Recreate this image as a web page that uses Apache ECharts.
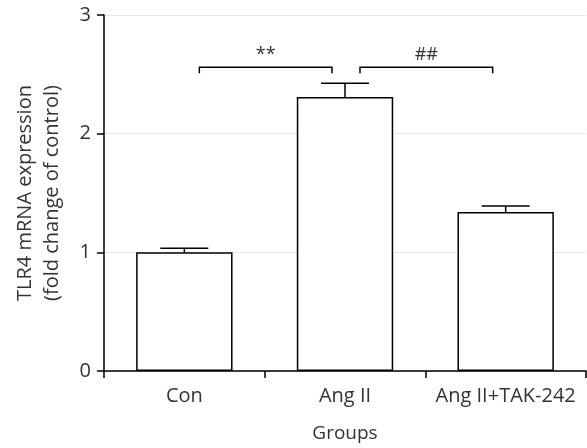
<!DOCTYPE html>
<html>
<head>
<meta charset="utf-8">
<script src="https://cdn.jsdelivr.net/npm/echarts@6/dist/echarts.min.js"></script>
<style>
  html, body { margin: 0; padding: 0; background: #fff; }
  #main { width: 587px; height: 448px; }
</style>
</head>
<body>
<div id="main"></div>
<script>
// groups on the x axis
var groups = ['Con', 'Ang II', 'Ang II+TAK-242'];
// mean fold change and upper error (mean + SEM)
var means = [1.0, 2.31, 1.34];
var errTops = [1.035, 2.425, 1.39];
// significance brackets: from group, to group, height, label
var pairFrom = [0, 1];
var pairTo = [1, 2];
var pairY = [2.56, 2.56];
var pairLabels = ['**', '##'];
var yTicks = [0, 1, 2, 3];

var font = 'Open Sans';

var option = {
    animation: false,
    grid: { left: 104, right: 1, top: 15, bottom: 76 },
    xAxis: {
        type: 'category',
        data: groups,
        name: 'Groups',
        nameLocation: 'middle',
        nameGap: 53,
        nameTextStyle: { fontFamily: font, fontSize: 19, color: '#333' },
        axisLine: { lineStyle: { color: '#000', width: 1.5 } },
        axisTick: { show: true, length: 7, lineStyle: { color: '#000', width: 1.5 } },
        axisLabel: { fontFamily: font, fontSize: 20, color: '#333', margin: 15, interval: 0, hideOverlap: false }
    },
    yAxis: {
        type: 'value',
        min: yTicks[0],
        max: yTicks[yTicks.length - 1],
        interval: 1,
        name: 'TLR4 mRNA expression\n(fold change of control)',
        nameLocation: 'middle',
        nameGap: 38,
        nameTextStyle: { fontFamily: font, fontSize: 20, color: '#333', lineHeight: 27 },
        axisLine: { show: true, lineStyle: { color: '#000', width: 1.5 } },
        axisTick: { show: true, length: 7, lineStyle: { color: '#000', width: 1.5 } },
        axisLabel: { fontFamily: font, fontSize: 20, color: '#333', margin: 13 },
        splitLine: { show: true, lineStyle: { color: '#e6e6e6', width: 1 } }
    },
    series: [
        {
            type: 'bar',
            data: means,
            barWidth: '60%',
            itemStyle: { color: '#fff', borderColor: '#000', borderWidth: 1.5 },
            z: 3
        },
        {
            type: 'custom',
            z: 4,
            data: means.map(function (m, i) { return [i, m, errTops[i]]; }),
            renderItem: function (params, api) {
                var top = api.coord([api.value(0), api.value(1)]);
                var cap = api.coord([api.value(0), api.value(2)]);
                var half = 24;
                var st = { stroke: '#000', lineWidth: 1.5 };
                return {
                    type: 'group',
                    children: [
                        { type: 'line', shape: { x1: top[0], y1: top[1], x2: cap[0], y2: cap[1] }, style: st },
                        { type: 'line', shape: { x1: cap[0] - half, y1: cap[1], x2: cap[0] + half, y2: cap[1] }, style: st }
                    ]
                };
            }
        },
        {
            type: 'custom',
            z: 5,
            data: pairFrom.map(function (f, i) { return [f, pairTo[i], pairY[i], pairLabels[i]]; }),
            renderItem: function (params, api) {
                var a = api.coord([api.value(0), api.value(2)]);
                var b = api.coord([api.value(1), api.value(2)]);
                var x1 = a[0] + 15, x2 = b[0] - 13, y = a[1];
                var st = { stroke: '#000', lineWidth: 1.5, fill: null };
                return {
                    type: 'group',
                    children: [
                        { type: 'polyline', shape: { points: [[x1, y + 6], [x1, y], [x2, y], [x2, y + 6]] }, style: st },
                        { type: 'text', style: { text: pairLabels[params.dataIndex], x: (x1 + x2) / 2, y: y - 3,
                            textAlign: 'center', textVerticalAlign: 'bottom',
                            font: '18px "Open Sans"', fill: '#333' } }
                    ]
                };
            }
        }
    ]
};

var myChart = echarts.init(document.getElementById('main'));
myChart.setOption(option);
</script>
</body>
</html>
